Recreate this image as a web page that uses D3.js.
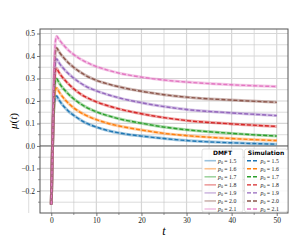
<!DOCTYPE html>
<html>
<head>
<meta charset="utf-8">
<script src="https://cdn.jsdelivr.net/npm/d3@7"></script>
<style>
body { margin: 0; background: #fff; }
svg text { font-family: "Liberation Serif", "DejaVu Serif", serif; }
</style>
</head>
<body>
<div id="chart"></div>
<script>
// time points
var tVals = [0, 0.3, 0.6, 0.9, 1.2, 1.6, 2, 3, 4, 5, 6, 7.5, 10, 12.5, 15, 20, 25, 30, 40, 50];

// mu(t) for each p0, DMFT and simulation sit on top of each other
var mu15 = [-0.26, 0.02, 0.180, 0.214, 0.222, 0.209, 0.196, 0.171, 0.151, 0.136, 0.122, 0.104, 0.084, 0.069, 0.058, 0.044, 0.033, 0.024, 0.014, 0.008];
var mu16 = [-0.26, 0.02, 0.195, 0.250, 0.258, 0.245, 0.232, 0.207, 0.186, 0.169, 0.155, 0.138, 0.117, 0.101, 0.089, 0.071, 0.056, 0.046, 0.033, 0.024];
var mu17 = [-0.26, 0.02, 0.210, 0.290, 0.299, 0.286, 0.273, 0.248, 0.227, 0.209, 0.194, 0.175, 0.152, 0.135, 0.121, 0.101, 0.084, 0.072, 0.056, 0.044];
var mu18 = [-0.26, 0.02, 0.230, 0.333, 0.344, 0.331, 0.318, 0.293, 0.272, 0.254, 0.238, 0.219, 0.196, 0.179, 0.165, 0.143, 0.126, 0.113, 0.098, 0.087];
var mu19 = [-0.26, 0.02, 0.250, 0.373, 0.387, 0.374, 0.362, 0.338, 0.318, 0.301, 0.286, 0.267, 0.245, 0.228, 0.214, 0.192, 0.175, 0.162, 0.147, 0.135];
var mu20 = [-0.26, 0.02, 0.270, 0.418, 0.436, 0.423, 0.411, 0.387, 0.366, 0.349, 0.334, 0.315, 0.292, 0.276, 0.263, 0.243, 0.228, 0.217, 0.204, 0.194];
var mu21 = [-0.26, 0.02, 0.300, 0.462, 0.488, 0.477, 0.466, 0.442, 0.422, 0.406, 0.392, 0.375, 0.353, 0.337, 0.324, 0.306, 0.293, 0.284, 0.272, 0.264];

var pVals = ["1.5", "1.6", "1.7", "1.8", "1.9", "2.0", "2.1"];
var colors = ["#1f77b4", "#ff7f0e", "#2ca02c", "#d62728", "#9467bd", "#8c564b", "#e377c2"];
var xTicks = [0, 10, 20, 30, 40, 50];
var yTicks = [-0.2, -0.1, 0.0, 0.1, 0.2, 0.3, 0.4, 0.5];

var series = [mu15, mu16, mu17, mu18, mu19, mu20, mu21].map(function(vals, i){
	return { p: pVals[i], color: colors[i], pts: vals.map(function(v, j){ return [tVals[j], v]; }) };
});

var width = 291, height = 240;
var plot = { left: 40, top: 29, right: 288, bottom: 213 };

var svg = d3.select("#chart").append("svg")
	.attr("width", width)
	.attr("height", height);

var x = d3.scaleLinear().domain([-2.5, 52.5]).range([plot.left, plot.right]);
var y = d3.scaleLinear().domain([-0.298, 0.52]).range([plot.bottom, plot.top]);

// grid, minor first then major
var grid = svg.append("g");
d3.range(-5, 55, 5).filter(function(d){ return d % 10 != 0; }).forEach(function(d){
	grid.append("line").attr("x1", x(d)).attr("x2", x(d)).attr("y1", plot.top).attr("y2", plot.bottom)
		.attr("stroke", "#c4c4c4").attr("stroke-width", 0.6);
});
d3.range(-0.25, 0.55, 0.1).forEach(function(d){
	grid.append("line").attr("x1", plot.left).attr("x2", plot.right).attr("y1", y(d)).attr("y2", y(d))
		.attr("stroke", "#c4c4c4").attr("stroke-width", 0.6);
});
xTicks.forEach(function(d){
	grid.append("line").attr("x1", x(d)).attr("x2", x(d)).attr("y1", plot.top).attr("y2", plot.bottom)
		.attr("stroke", "#d6d6d6").attr("stroke-width", 1.2);
});
yTicks.forEach(function(d){
	grid.append("line").attr("x1", plot.left).attr("x2", plot.right).attr("y1", y(d)).attr("y2", y(d))
		.attr("stroke", "#d6d6d6").attr("stroke-width", 1.2);
});

// zero line
svg.append("line").attr("x1", plot.left).attr("x2", plot.right).attr("y1", y(0)).attr("y2", y(0))
	.attr("stroke", "#666").attr("stroke-width", 1);

var line = d3.line()
	.x(function(d){ return x(d[0]); })
	.y(function(d){ return y(d[1]); })
	.curve(d3.curveMonotoneX);

// DMFT: light thick solid
svg.append("g").selectAll("path").data(series).enter().append("path")
	.attr("d", function(d){ return line(d.pts); })
	.attr("fill", "none")
	.attr("stroke", function(d){ return d.color; })
	.attr("stroke-opacity", 0.4)
	.attr("stroke-width", 3);

// Simulation: dashed on top
svg.append("g").selectAll("path").data(series).enter().append("path")
	.attr("d", function(d){ return line(d.pts); })
	.attr("fill", "none")
	.attr("stroke", function(d){ return d.color; })
	.attr("stroke-width", 1.4)
	.attr("stroke-dasharray", "4,2");

// axes
var xAxis = d3.axisBottom(x).tickValues(xTicks).tickSize(3).tickPadding(2).tickFormat(d3.format("d"));
var yAxis = d3.axisLeft(y).tickValues(yTicks).tickSize(3).tickPadding(2)
	.tickFormat(function(d){ return d3.format(".1f")(d).replace("-", "\u2212"); });

var gx = svg.append("g").attr("transform", "translate(0," + plot.bottom + ")").call(xAxis);
var gy = svg.append("g").attr("transform", "translate(" + plot.left + ",0)").call(yAxis);
[gx, gy].forEach(function(g){
	g.select(".domain").remove();
	g.selectAll(".tick line").attr("stroke", "#555").attr("stroke-width", 0.8);
	g.selectAll(".tick text").attr("font-size", 7.5).attr("fill", "#222")
		.style("font-family", "'Liberation Serif', serif");
});

// minor ticks
d3.range(5, 55, 10).forEach(function(d){
	svg.append("line").attr("x1", x(d)).attr("x2", x(d)).attr("y1", plot.bottom).attr("y2", plot.bottom + 2)
		.attr("stroke", "#555").attr("stroke-width", 0.6);
});
d3.range(-0.25, 0.55, 0.1).forEach(function(d){
	svg.append("line").attr("x1", plot.left - 2).attr("x2", plot.left).attr("y1", y(d)).attr("y2", y(d))
		.attr("stroke", "#555").attr("stroke-width", 0.6);
});

// frame
svg.append("rect").attr("x", plot.left).attr("y", plot.top)
	.attr("width", plot.right - plot.left).attr("height", plot.bottom - plot.top)
	.attr("fill", "none").attr("stroke", "#555").attr("stroke-width", 1);

// axis labels
svg.append("text").attr("x", x(25)).attr("y", 235)
	.attr("text-anchor", "middle").attr("font-size", 12).attr("font-style", "italic")
	.text("t");
svg.append("text")
	.attr("transform", "translate(17," + ((plot.top + plot.bottom) / 2) + ") rotate(-90)")
	.attr("text-anchor", "middle").attr("font-size", 11)
	.html("<tspan font-style='italic'>\u03bc</tspan>(<tspan font-style='italic'>t</tspan>)");

// legends
function drawLegend(x0, w, title, dashed){
	var g = svg.append("g").attr("transform", "translate(" + x0 + ",149)");
	g.append("rect").attr("width", w).attr("height", 63).attr("rx", 2)
		.attr("fill", "#fff").attr("fill-opacity", 0.85)
		.attr("stroke", "#ccc").attr("stroke-width", 0.6);
	g.append("text").attr("x", w / 2).attr("y", 5.8).attr("text-anchor", "middle")
		.attr("font-size", 6).attr("font-weight", "bold")
		.style("font-family", "'DejaVu Sans', sans-serif").text(title);
	series.forEach(function(s, i){
		var yy = 11.7 + i * 8.05;
		var h = g.append("line").attr("x1", 2.5).attr("x2", 14).attr("y1", yy).attr("y2", yy)
			.attr("stroke", s.color);
		if (dashed) {
			h.attr("stroke-width", 1.4).attr("stroke-dasharray", "4,2");
		} else {
			h.attr("stroke-width", 1.6).attr("stroke-opacity", 0.45);
		}
		g.append("text").attr("x", 16).attr("y", yy + 1.8).attr("font-size", 5.8).attr("fill", "#222")
			.html("<tspan font-style='italic'>p</tspan><tspan font-size='4' dy='1'>0</tspan><tspan dy='-1'> = " + s.p + "</tspan>");
	});
}
drawLegend(202, 41, "DMFT", false);
drawLegend(244.5, 43, "Simulation", true);
</script>
</body>
</html>
